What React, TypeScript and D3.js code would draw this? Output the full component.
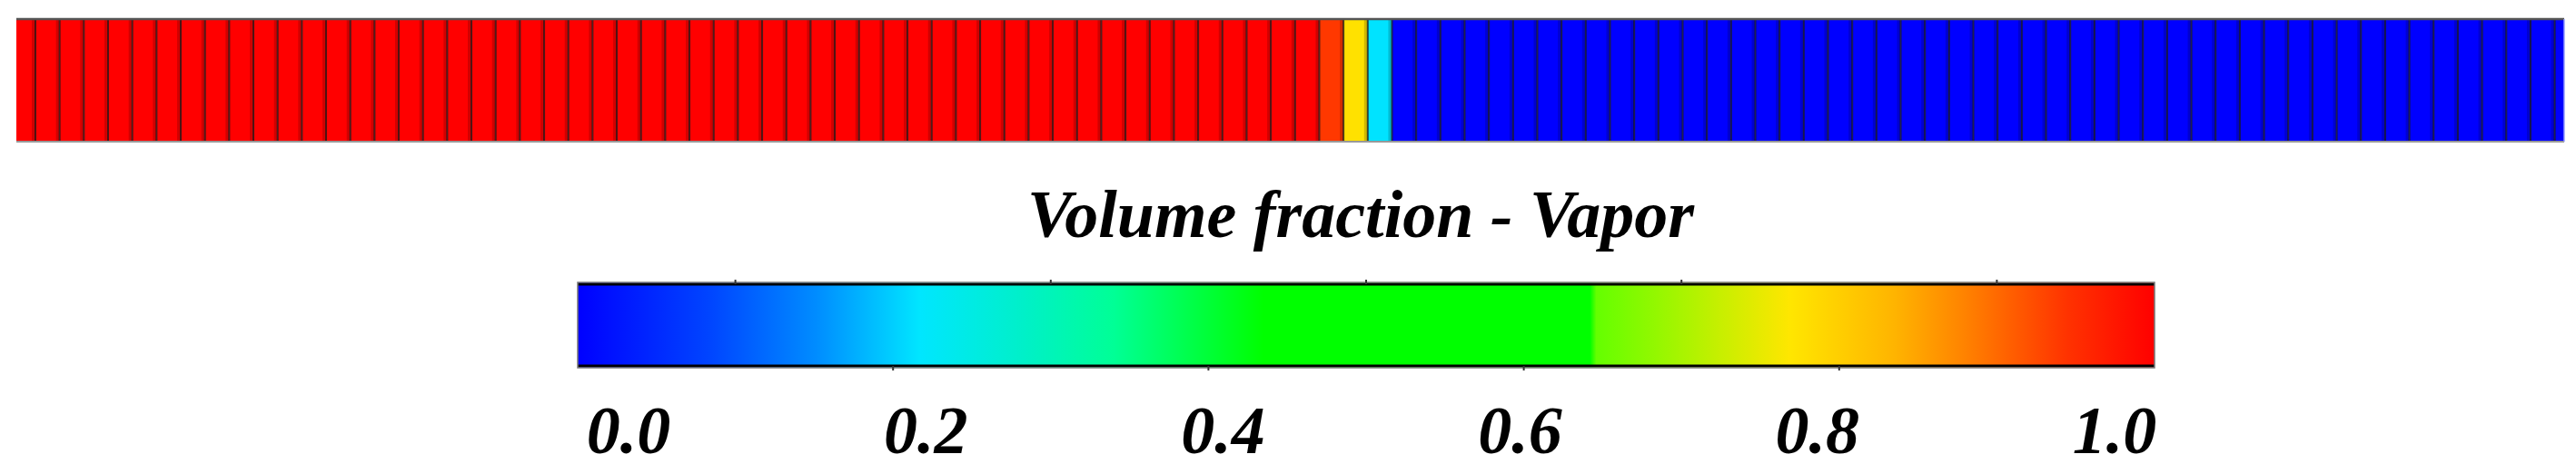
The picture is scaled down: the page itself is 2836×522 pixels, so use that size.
import React from "react";
import * as d3 from "d3";

// ---- data ----
// vapor volume fraction per mesh cell (left to right)
const cellValues: number[] = [
  1, 1, 1, 1, 1, 1, 1, 1, 1, 1, 1, 1, 1, 1, 1, 1, 1, 1, 1, 1,
  1, 1, 1, 1, 1, 1, 1, 1, 1, 1, 1, 1, 1, 1, 1, 1, 1, 1, 1, 1,
  1, 1, 1, 1, 1, 1, 1, 1, 1, 1, 1, 1, 1, 1,
  0.94, 0.775, 0.215,
  0, 0, 0, 0, 0, 0, 0, 0, 0, 0, 0, 0, 0, 0, 0, 0, 0, 0, 0, 0,
  0, 0, 0, 0, 0, 0, 0, 0, 0, 0, 0, 0, 0, 0, 0, 0, 0, 0, 0, 0,
  0, 0, 0, 0, 0, 0, 0, 0, 0,
];
// visible window of the mesh (in cell units)
const meshWindow: [number, number] = [0.213, 105.39];

// colormap stops
const stopOffsets: number[] = [0, 0.085, 0.151, 0.217, 0.283, 0.34, 0.435, 0.642, 0.646, 0.769, 0.835, 0.88, 0.945, 1];
const stopColors: string[] = [
  "#0000ff", "#0046ff", "#008cff", "#00e6ff", "#00f0c8", "#00ff96", "#00ff00",
  "#00ff00", "#64ff00", "#ffe600", "#ffb400", "#ff8200", "#ff3200", "#ff0000",
];
const tickLabels: string[] = ["0.0", "0.2", "0.4", "0.6", "0.8", "1.0"];
const tickValues: number[] = [0, 0.2, 0.4, 0.6, 0.8, 1.0];
const minorTicks: number[] = [0.1, 0.2, 0.3, 0.4, 0.5, 0.6, 0.7, 0.8, 0.9];
const title = "Volume fraction - Vapor";

// ---- layout ----
const W = 2836;
const H = 522;
const strip = { left: 18, right: 2823, top: 21, bottom: 156 };
const bar = { left: 636, right: 2372, top: 311, bottom: 405 };
const FONT = "'Liberation Serif', 'Times New Roman', serif";

export default function App() {
  const x = d3.scaleLinear().domain(meshWindow).range([strip.left, strip.right]);
  const color = d3
    .scaleLinear<string>()
    .domain(stopOffsets)
    .range(stopColors)
    .interpolate(d3.interpolateRgb);
  const barX = d3.scaleLinear().domain([0, 1]).range([bar.left, bar.right]);
  const labelX = d3.scaleLinear().domain([0, 1]).range([bar.left + 56, bar.right - 44]);

  const borders = d3.range(1, cellValues.length);

  return (
    <svg
      width={W}
      height={H}
      style={{ position: "absolute", left: 0, top: 0, background: "#fff" }}
    >
      <defs>
        <clipPath id="stripClip">
          <rect x={strip.left} y={strip.top} width={strip.right - strip.left} height={strip.bottom - strip.top} />
        </clipPath>
        <linearGradient id="cmap" x1="0" x2="1" y1="0" y2="0">
          {stopOffsets.map((o, i) => (
            <stop key={i} offset={o} stopColor={stopColors[i]} />
          ))}
        </linearGradient>
      </defs>

      {/* mesh strip */}
      <g clipPath="url(#stripClip)">
        {cellValues.map((v, i) => (
          <rect
            key={i}
            x={x(i)}
            y={strip.top}
            width={x(i + 1) - x(i)}
            height={strip.bottom - strip.top}
            fill={color(v)}
          />
        ))}
        {borders.map((b) => (
          <g key={b}>
            <rect x={x(b) - 4} y={strip.top} width={4} height={strip.bottom - strip.top} fill="#000" opacity={0.18} />
            <line x1={x(b)} x2={x(b)} y1={strip.top} y2={strip.bottom} stroke="#1a1a1a" strokeOpacity={0.75} strokeWidth={2} />
          </g>
        ))}
      </g>
      <line x1={strip.left} x2={strip.right} y1={strip.top} y2={strip.top} stroke="#555" strokeWidth={2.5} />
      <line x1={strip.left} x2={strip.right} y1={strip.bottom} y2={strip.bottom} stroke="#999" strokeWidth={2} />
      <line x1={strip.right} x2={strip.right} y1={strip.top} y2={strip.bottom} stroke="#9aa0ff" strokeWidth={1.5} />

      {/* title */}
      <text
        x={(bar.left + bar.right) / 2 - 6}
        y={261}
        textAnchor="middle"
        fontFamily={FONT}
        fontWeight="bold"
        fontStyle="italic"
        fontSize={74}
        fill="#000"
      >
        {title}
      </text>

      {/* colorbar */}
      <rect
        x={bar.left}
        y={bar.top}
        width={bar.right - bar.left}
        height={bar.bottom - bar.top}
        fill="url(#cmap)"
      />
      <line x1={bar.left} x2={bar.right} y1={bar.top + 2} y2={bar.top + 2} stroke="#000" strokeWidth={3} />
      <line x1={bar.left} x2={bar.right} y1={bar.bottom - 2} y2={bar.bottom - 2} stroke="#000" strokeWidth={3} />
      <rect
        x={bar.left}
        y={bar.top}
        width={bar.right - bar.left}
        height={bar.bottom - bar.top}
        fill="none"
        stroke="#777"
        strokeWidth={1.5}
      />
      {minorTicks.map((t, i) =>
        i % 2 === 0 ? (
          <line key={t} x1={barX(t)} x2={barX(t)} y1={bar.top - 3} y2={bar.top + 2} stroke="#333" strokeWidth={2} />
        ) : (
          <line key={t} x1={barX(t)} x2={barX(t)} y1={bar.bottom - 2} y2={bar.bottom + 3} stroke="#333" strokeWidth={2} />
        )
      )}

      {/* tick labels */}
      {tickValues.map((t, i) => (
        <text
          key={t}
          x={labelX(t)}
          y={499}
          textAnchor="middle"
          fontFamily={FONT}
          fontWeight="bold"
          fontStyle="italic"
          fontSize={74}
          fill="#000"
        >
          {tickLabels[i]}
        </text>
      ))}
    </svg>
  );
}
